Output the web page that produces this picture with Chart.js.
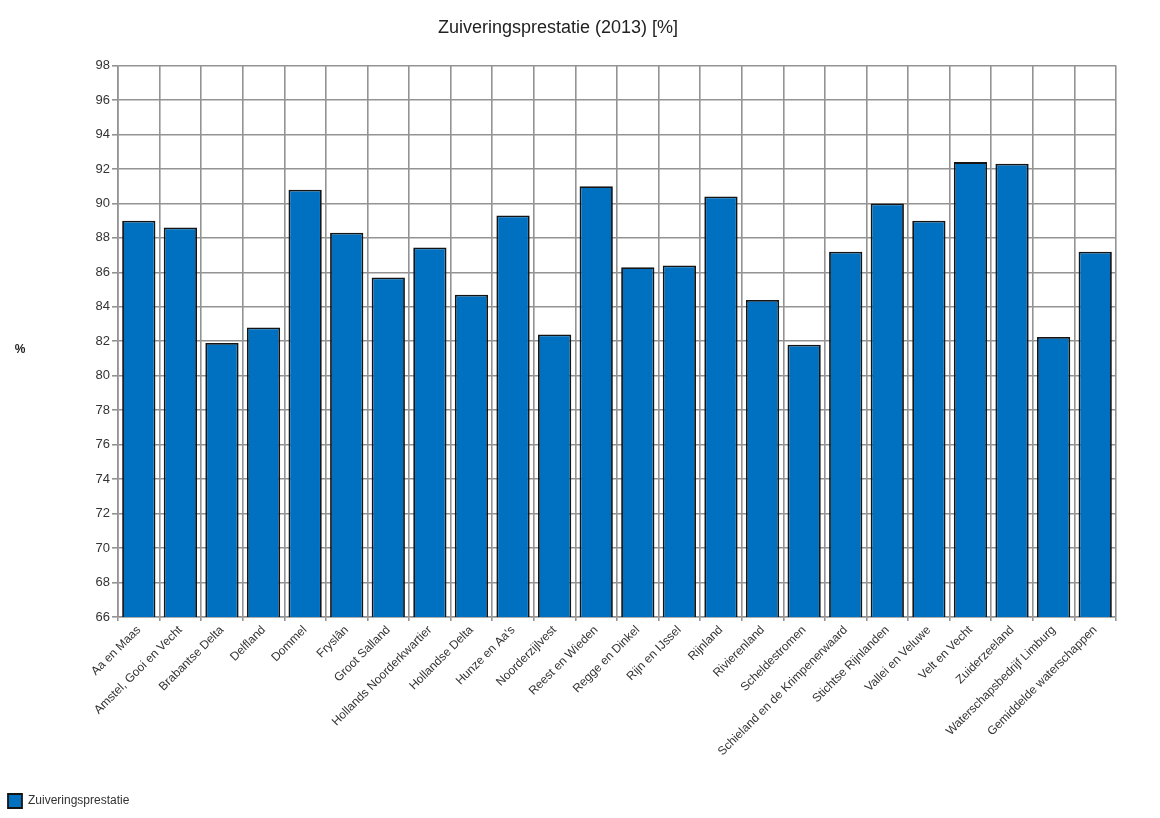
<!DOCTYPE html>
<html>
<head>
<meta charset="utf-8">
<script src="https://cdn.jsdelivr.net/npm/chart.js@4/dist/chart.umd.min.js"></script>
<style>
  html, body { margin: 0; padding: 0; background: #ffffff; }
  #wrap { width: 1160px; height: 818px; position: relative; }
</style>
</head>
<body>
<div id="wrap"><canvas id="c" width="1160" height="818"></canvas></div>
<script>
const categories = [
  "Aa en Maas", "Amstel, Gooi en Vecht", "Brabantse Delta", "Delfland", "Dommel",
  "Fryslân", "Groot Salland", "Hollands Noorderkwartier", "Hollandse Delta", "Hunze en Aa's",
  "Noorderzijlvest", "Reest en Wieden", "Regge en Dinkel", "Rijn en IJssel", "Rijnland",
  "Rivierenland", "Scheldestromen", "Schieland en de Krimpenerwaard", "Stichtse Rijnlanden", "Vallei en Veluwe",
  "Velt en Vecht", "Zuiderzeeland", "Waterschapsbedrijf Limburg", "Gemiddelde waterschappen"
];
const values = [
  89.0, 88.6, 81.9, 82.8, 90.8,
  88.3, 85.7, 87.45, 84.7, 89.3,
  82.4, 91.0, 86.3, 86.4, 90.4,
  84.4, 81.8, 87.2, 90.0, 89.0,
  92.4, 92.3, 82.25, 87.2
];
const seriesName = "Zuiveringsprestatie";
const chartTitle = "Zuiveringsprestatie (2013) [%]";
const yAxisTitle = "%";
const yMin = 66, yMax = 98, yStep = 2;

const FONT = "'Liberation Sans', Arial, sans-serif";

const yTitlePlugin = {
  id: 'yTitle',
  afterDraw(chart) {
    const ctx = chart.ctx;
    const a = chart.chartArea;
    ctx.save();
    ctx.font = "bold 12px " + FONT;
    ctx.fillStyle = "#222";
    ctx.textAlign = "center";
    ctx.textBaseline = "middle";
    ctx.fillText(yAxisTitle, 20, (a.top + a.bottom) / 2 + 8);
    ctx.restore();
  }
};

new Chart(document.getElementById('c'), {
  type: 'bar',
  data: {
    labels: categories,
    datasets: [{
      label: seriesName,
      data: values,
      backgroundColor: '#0070c0',
      borderColor: '#141414',
      borderWidth: 1.8,
      borderSkipped: 'bottom',
      categoryPercentage: 1.0,
      barPercentage: 0.8
    }]
  },
  options: {
    responsive: false,
    animation: false,
    devicePixelRatio: 1,
    layout: { padding: { left: 0, right: 44, top: 0, bottom: 0 } },
    plugins: {
      title: {
        display: true,
        text: chartTitle,
        color: '#222',
        font: { family: FONT, size: 18, weight: 'normal' },
        padding: { top: 17, bottom: 27 }
      },
      legend: {
        display: true,
        position: 'bottom',
        align: 'start',
        labels: {
          boxWidth: 14,
          boxHeight: 14,
          padding: 8,
          color: '#333',
          font: { family: FONT, size: 12 }
        }
      },
      tooltip: { enabled: false }
    },
    scales: {
      x: {
        offset: true,
        grid: { display: true, offset: true, color: '#939393', lineWidth: 1.6, tickLength: 4, drawOnChartArea: true },
        border: { display: true, color: '#939393', width: 1.6 },
        ticks: {
          autoSkip: false,
          maxRotation: 45,
          minRotation: 45,
          color: '#333',
          padding: 2,
          font: { family: FONT, size: 12 }
        },
        afterFit(scale) { scale.height = 169; }
      },
      y: {
        min: yMin,
        max: yMax,
        grid: { color: '#939393', lineWidth: 1.6, tickLength: 6 },
        border: { display: true, color: '#939393', width: 1.6 },
        ticks: {
          stepSize: yStep,
          color: '#333',
          padding: 2,
          font: { family: FONT, size: 13 }
        },
        afterFit(scale) { scale.width = 118; }
      }
    }
  },
  plugins: [yTitlePlugin]
});
</script>
</body>
</html>
